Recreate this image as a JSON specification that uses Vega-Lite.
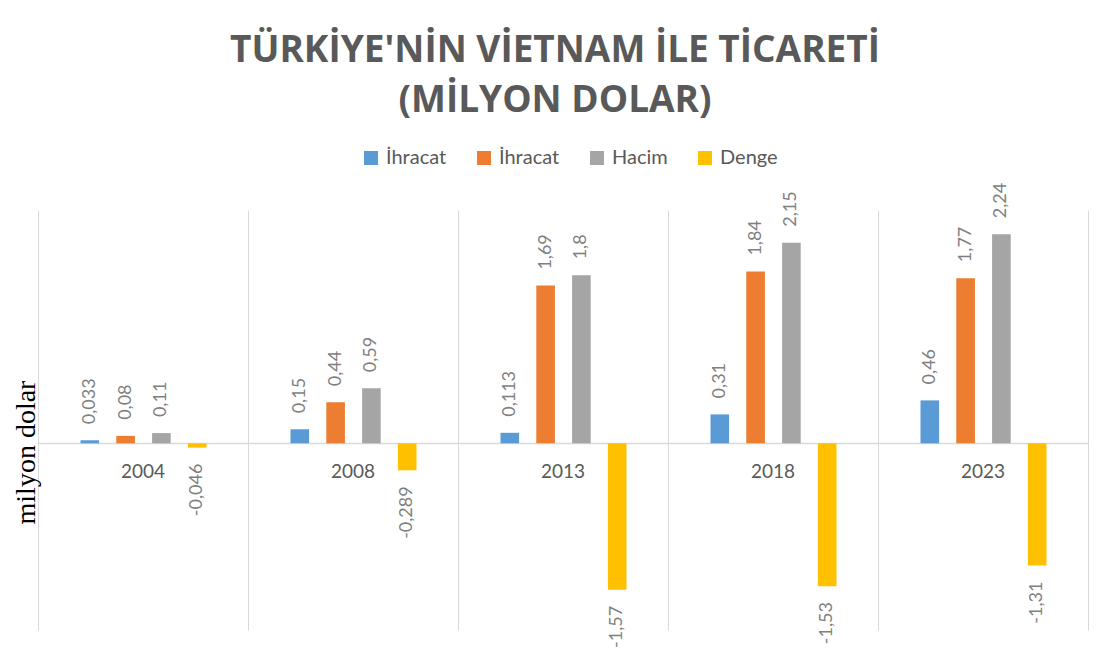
{
  "$schema": "https://vega.github.io/schema/vega-lite/v6.json",
  "width": 1050,
  "height": 420,
  "autosize": {"type": "none"},
  "padding": {"left": 38, "top": 210, "right": 19, "bottom": 31},
  "background": "white",
  "title": {
    "text": ["TÜRKİYE'NİN VİETNAM İLE TİCARETİ", "(MİLYON DOLAR)"],
    "font": "Open Sans",
    "fontWeight": "bold",
    "fontSize": 37,
    "color": "#595959",
    "lineHeight": 50,
    "anchor": "middle",
    "offset": 28,
    "baseline": "top",
    "dx": -8
  },
  "config": {
    "locale": {"number": {"decimal": ",", "thousands": ".", "grouping": [3], "currency": ["", ""], "minus": "-"}},
    "view": {"stroke": null},
    "font": "Lato"
  },
  "data": {
    "values": [
      {"year": "2004", "series": "İhracat#1", "value": 0.033},
      {"year": "2004", "series": "İhracat#2", "value": 0.08},
      {"year": "2004", "series": "Hacim", "value": 0.11},
      {"year": "2004", "series": "Denge", "value": -0.046},
      {"year": "2008", "series": "İhracat#1", "value": 0.15},
      {"year": "2008", "series": "İhracat#2", "value": 0.44},
      {"year": "2008", "series": "Hacim", "value": 0.59},
      {"year": "2008", "series": "Denge", "value": -0.289},
      {"year": "2013", "series": "İhracat#1", "value": 0.113},
      {"year": "2013", "series": "İhracat#2", "value": 1.69},
      {"year": "2013", "series": "Hacim", "value": 1.8},
      {"year": "2013", "series": "Denge", "value": -1.57},
      {"year": "2018", "series": "İhracat#1", "value": 0.31},
      {"year": "2018", "series": "İhracat#2", "value": 1.84},
      {"year": "2018", "series": "Hacim", "value": 2.15},
      {"year": "2018", "series": "Denge", "value": -1.53},
      {"year": "2023", "series": "İhracat#1", "value": 0.46},
      {"year": "2023", "series": "İhracat#2", "value": 1.77},
      {"year": "2023", "series": "Hacim", "value": 2.24},
      {"year": "2023", "series": "Denge", "value": -1.31}
    ]
  },
  "encoding": {
    "x": {
      "field": "year",
      "type": "nominal",
      "sort": null,
      "scale": {"paddingInner": 0, "paddingOuter": 0},
      "axis": {
        "title": null,
        "labels": false,
        "ticks": false,
        "domain": false,
        "grid": true,
        "tickBand": "extent",
        "gridColor": "#d9d9d9",
        "gridWidth": 1
      }
    },
    "y": {
      "field": "value",
      "type": "quantitative",
      "scale": {"domain": [-2, 2.5], "nice": false, "zero": true},
      "axis": {
        "title": "milyon dolar",
        "titleFont": "Liberation Serif",
        "titleFontWeight": "normal",
        "titleFontSize": 28,
        "titleColor": "#000000",
        "titleAngle": 270,
        "titleAlign": "center",
        "titleBaseline": "middle",
        "titleX": -12,
        "titleY": 242,
        "labels": false,
        "ticks": false,
        "domain": false,
        "grid": true,
        "values": [0],
        "gridColor": "#d9d9d9",
        "gridWidth": 1.5
      }
    }
  },
  "layer": [
    {
      "mark": {"type": "bar"},
      "encoding": {
        "xOffset": {
          "field": "series",
          "type": "nominal",
          "sort": ["İhracat#1", "İhracat#2", "Hacim", "Denge"],
          "scale": {"paddingInner": 0.48, "paddingOuter": 0, "range": [42.5, 168.5]}
        },
        "color": {
          "field": "series",
          "type": "nominal",
          "sort": ["İhracat#1", "İhracat#2", "Hacim", "Denge"],
          "scale": {
            "domain": ["İhracat#1", "İhracat#2", "Hacim", "Denge"],
            "range": ["#5B9BD5", "#ED7D31", "#A5A5A5", "#FFC000"]
          },
          "legend": {
            "title": null,
            "orient": "none",
            "direction": "horizontal",
            "legendX": 323,
            "legendY": -62,
            "symbolType": "square",
            "symbolSize": 196,
            "symbolStrokeWidth": 0,
            "labelFont": "Lato",
            "labelFontSize": 20,
            "labelColor": "#595959",
            "labelOffset": 5,
            "columnPadding": 27,
            "labelExpr": "split(datum.label, '#')[0]"
          }
        }
      }
    },
    {
      "transform": [{"filter": "datum.value >= 0"}],
      "mark": {"type": "text", "angle": 270, "align": "left", "baseline": "middle", "dx": 16, "fontSize": 18, "color": "#7f7f7f", "font": "Lato"},
      "encoding": {
        "xOffset": {"field": "series", "type": "nominal", "sort": ["İhracat#1", "İhracat#2", "Hacim", "Denge"]},
        "text": {"field": "value", "type": "quantitative", "format": ".3~f"}
      }
    },
    {
      "transform": [{"filter": "datum.value < 0"}],
      "mark": {"type": "text", "angle": 270, "align": "right", "baseline": "middle", "dx": -16, "fontSize": 18, "color": "#7f7f7f", "font": "Lato"},
      "encoding": {
        "xOffset": {"field": "series", "type": "nominal", "sort": ["İhracat#1", "İhracat#2", "Hacim", "Denge"]},
        "text": {"field": "value", "type": "quantitative", "format": ".3~f"}
      }
    },
    {
      "transform": [{"filter": "datum.series == 'Hacim'"}],
      "mark": {"type": "text", "baseline": "middle", "align": "center", "dy": 29, "fontSize": 19, "color": "#595959", "font": "Lato"},
      "encoding": {
        "y": {"datum": 0, "type": "quantitative"},
        "text": {"field": "year", "type": "nominal"}
      }
    }
  ]
}
